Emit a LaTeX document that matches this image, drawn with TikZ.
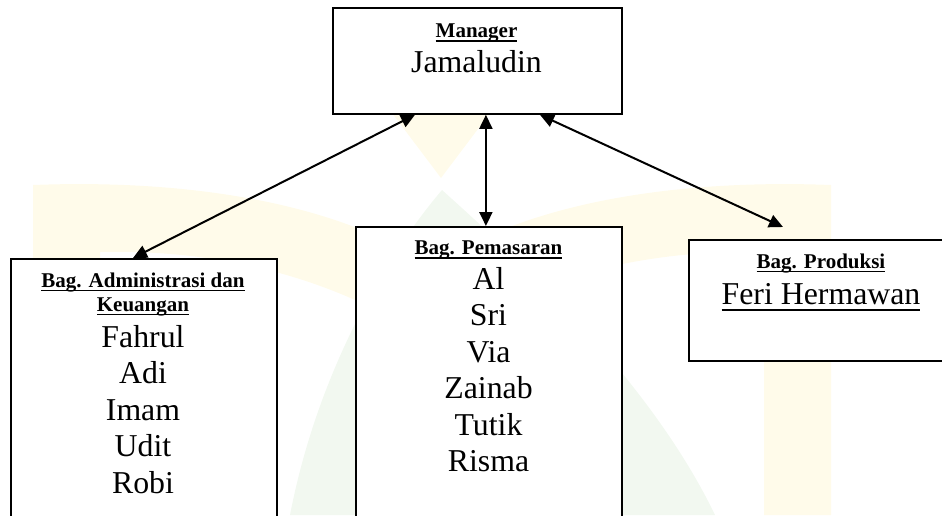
\documentclass[tikz,border=0pt]{standalone}
\usepackage{fontspec}
\setmainfont{Liberation Serif}
\usetikzlibrary{arrows.meta,positioning}

\definecolor{wmkuning}{RGB}{255,251,234}
\definecolor{wmhijau}{RGB}{242,248,240}
\newcommand{\garis}[1]{\leavevmode\setbox0\hbox{#1}\rlap{\rule[-0.2em]{\wd0}{0.06em}}\box0}

\begin{document}
\begin{tikzpicture}[x=1pt, y=-1pt,
    kotak/.style={draw, fill=white, line width=1.8pt, anchor=north west, inner sep=0pt},
    judul/.style={font=\fontsize{21}{24}\selectfont\bfseries, anchor=base, inner sep=0pt},
    nama/.style={font=\fontsize{31.8}{36.5}\selectfont, anchor=base, inner sep=0pt},
    panah/.style={{Triangle[length=14pt,width=13pt]}-{Triangle[length=14pt,width=13pt]}, line width=2pt}]
  \useasboundingbox (0,0) rectangle (942,515);
  \clip (0,0) rectangle (942,515);

  % watermark
  \fill[wmkuning] (33,185) .. controls (160,180) and (290,195) .. (385,240) -- (355,300)
    .. controls (270,262) and (180,250) .. (100,252) -- (100,515) -- (33,515) -- cycle;
  \fill[wmkuning] (831,185) .. controls (704,180) and (574,195) .. (479,240) -- (509,300)
    .. controls (594,262) and (684,250) .. (764,252) -- (764,515) -- (831,515) -- cycle;
  \fill[wmkuning] (392,113) -- (490,113) -- (441,178) -- cycle;
  \fill[wmhijau] (442,190) .. controls (395,245) and (320,360) .. (290,515) -- (715,515)
    .. controls (650,380) and (520,260) .. (442,190);

  % kotak
  \node[kotak, minimum width=289pt, minimum height=106pt] (mgr) at (332,7) {};
  \node[kotak, minimum width=266pt, minimum height=290pt] (adm) at (10,258) {};
  \node[kotak, minimum width=266pt, minimum height=320pt] (pms) at (355,226) {};
  \node[kotak, minimum width=267pt, minimum height=121pt] (prd) at (688,239) {};

  % isi
  \node[judul] (mgrj) at (476.5,37.5) {\garis{Manager}};
  \node[nama] (mgrn) at (476.5,72.7) {Jamaludin};

  \node[judul] (admj1) at (143,287) {\garis{Bag. Administrasi dan}};
  \node[judul] (admj2) at (143,311) {\garis{Keuangan}};
  \foreach \nm [count=\i] in {Fahrul,Adi,Imam,Udit,Robi}
    \node[nama] (adm\i) at (143,347+36.5*\i-36.5) {\nm};

  \node[judul] (pmsj) at (488.5,254.3) {\garis{Bag. Pemasaran}};
  \foreach \nm [count=\i] in {Al,Sri,Via,Zainab,Tutik,Risma}
    \node[nama] (pms\i) at (488.5,289+36.5*\i-36.5) {\nm};

  \node[judul] (prdj) at (821,268) {\garis{Bag. Produksi}};
  \node[nama] (prdn) at (821,304.3) {\garis{Feri Hermawan}};

  % panah
  \coordinate (prdtip) at ([xshift=95pt,yshift=12pt]prd.north west);
  \draw[panah] ([xshift=83pt]mgr.south west) -- ([xshift=123pt]adm.north west);
  \draw[panah] ([xshift=-3pt]pms.north |- mgr.south) -- ([xshift=-3pt]pms.north);
  \draw[panah] ([xshift=208pt]mgr.south west) -- (prdtip);
\end{tikzpicture}
\end{document}
